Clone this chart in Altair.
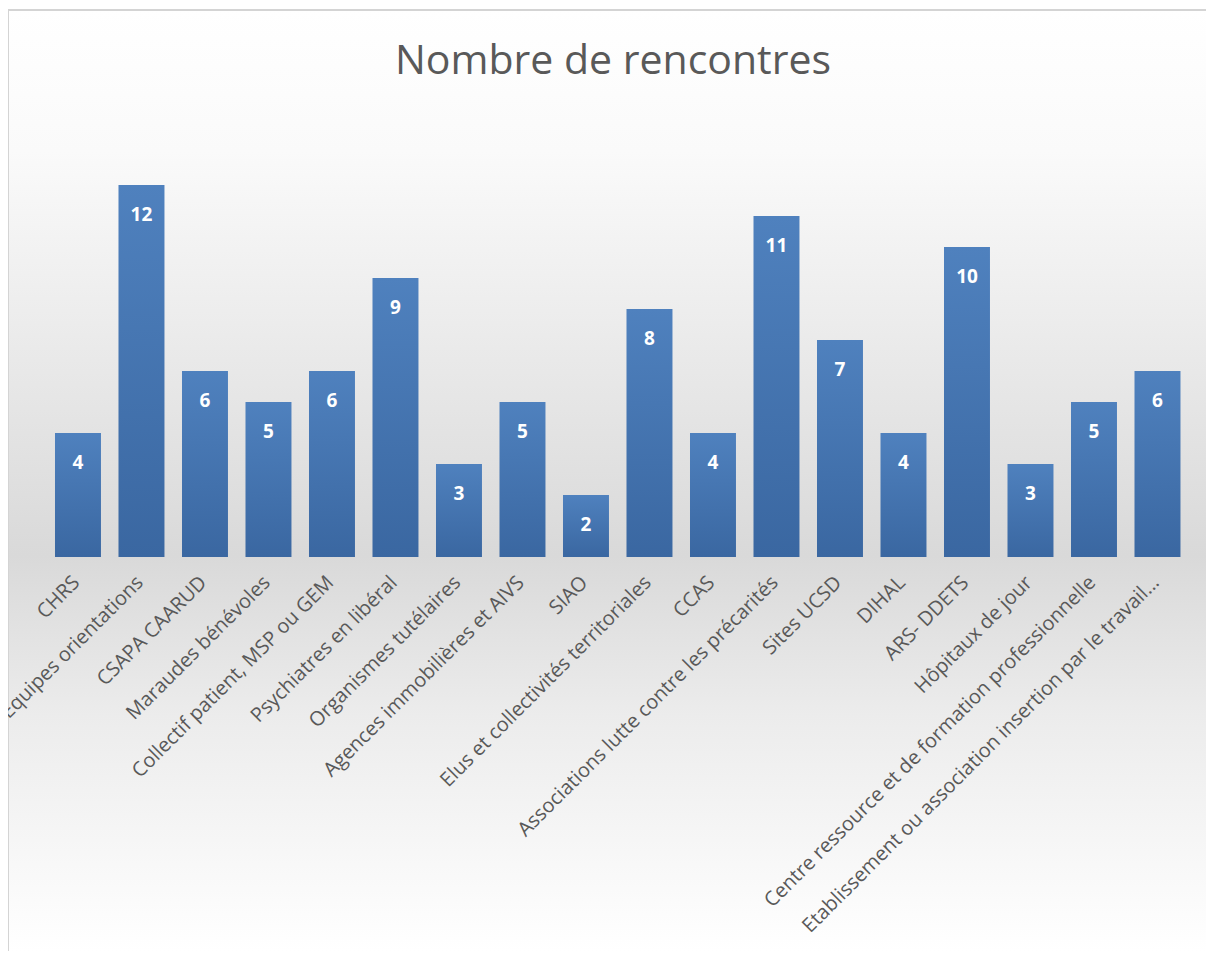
import altair as alt
import pandas as pd

categories = [
    "CHRS", "Equipes orientations", "CSAPA CAARUD", "Maraudes bénévoles",
    "Collectif patient, MSP ou GEM", "Psychiatres en libéral",
    "Organismes tutélaires", "Agences immobilières et AIVS", "SIAO",
    "Elus et collectivités territoriales", "CCAS",
    "Associations lutte contre les précarités", "Sites UCSD", "DIHAL",
    "ARS- DDETS", "Hôpitaux de jour",
    "Centre ressource et de formation professionnelle",
    "Etablissement ou association insertion par le travail...",
]
values = [4, 12, 6, 5, 6, 9, 3, 5, 2, 8, 4, 11, 7, 4, 10, 3, 5, 6]
title_text = "Nombre de rencontres"

df = pd.DataFrame({"cat": categories, "val": values, "zero": [0] * len(values)})
bg = pd.DataFrame({"a": [0]})

W, H = 1198, 943

xs = alt.Scale(domain=categories, paddingInner=0.276, paddingOuter=0.571, align=0.648)
ys = alt.Scale(domain=[-12.71, 17.71], nice=False, zero=False)

X = alt.X("cat:N", scale=xs, axis=None, sort=categories)

background = alt.Chart(bg).mark_rect(
    fill=alt.LinearGradient(
        gradient="linear", x1=0, y1=0, x2=0, y2=1,
        stops=[
            alt.GradientStop(offset=0, color="#ffffff"),
            alt.GradientStop(offset=0.15, color="#fafafa"),
            alt.GradientStop(offset=0.58, color="#d9d9d9"),
            alt.GradientStop(offset=0.75, color="#ececec"),
            alt.GradientStop(offset=1, color="#ffffff"),
        ],
    )
).encode(x=alt.value(0), x2=alt.value(W), y=alt.value(2), y2=alt.value(H))

border = alt.Chart(bg).mark_rule(color="#d4d4d4", strokeWidth=2).encode(
    x=alt.value(0), x2=alt.value(W), y=alt.value(2)
)
border_left = alt.Chart(bg).mark_rule(color="#d4d4d4", strokeWidth=2).encode(
    x=alt.value(0), y=alt.value(2), y2=alt.value(H)
)

bars = alt.Chart(df).mark_bar(
    color=alt.LinearGradient(
        gradient="linear", x1=0, y1=0, x2=0, y2=1,
        stops=[
            alt.GradientStop(offset=0, color="#4f81be"),
            alt.GradientStop(offset=1, color="#3a67a1"),
        ],
    )
).encode(x=X, y=alt.Y("val:Q", scale=ys, axis=None), y2="zero:Q")

value_labels = alt.Chart(df).mark_text(
    color="white", fontWeight="bold", fontSize=19, font="Open Sans",
    baseline="middle", dy=30,
).encode(x=X, y=alt.Y("val:Q", scale=ys, axis=None), text="val:Q")

cat_labels = alt.Chart(df).mark_text(
    color="#595959", fontSize=20, font="Open Sans", angle=315,
    align="right", baseline="middle", dx=-17, dy=15,
).encode(x=X, y=alt.Y("zero:Q", scale=ys, axis=None), text="cat:N")

title = alt.Chart(bg).mark_text(
    text=title_text, color="#595959", fontSize=41, font="Open Sans",
    align="center", baseline="middle",
).encode(x=alt.value(605), y=alt.value(54))

chart = alt.layer(
    background, border, border_left, bars, value_labels, cat_labels, title
).properties(width=W, height=H, padding=0, autosize="none").configure_view(stroke=None)

chart.save("out.html", embed_options={"renderer": "svg", "actions": False})
